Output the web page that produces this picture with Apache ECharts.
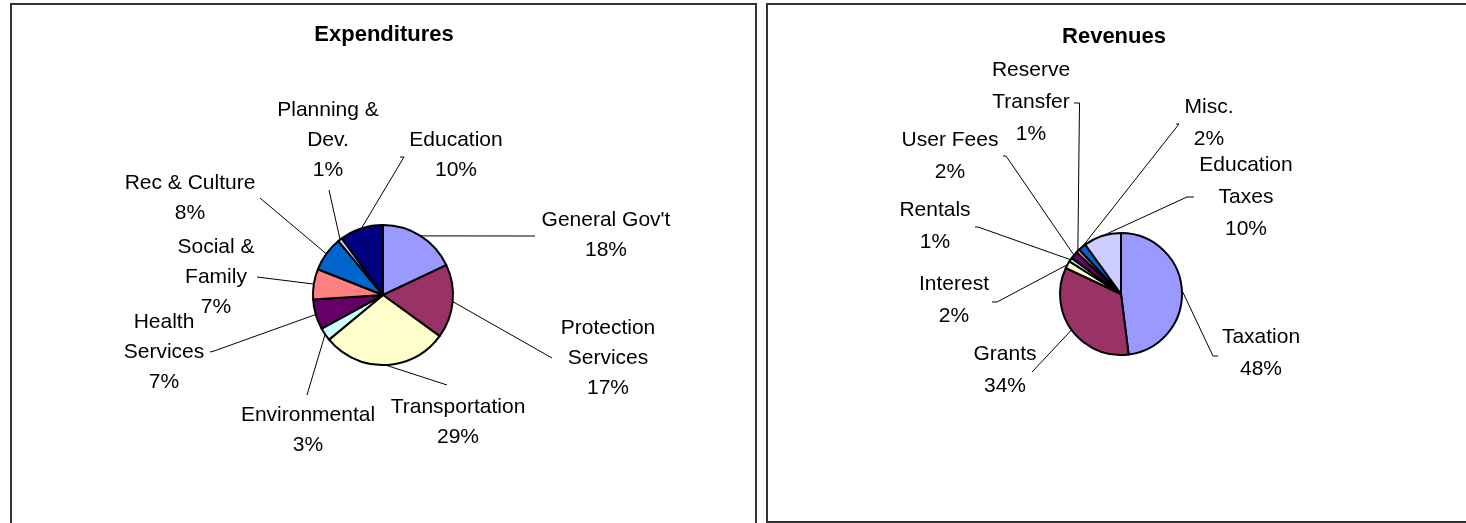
<!DOCTYPE html>
<html><head><meta charset="utf-8">
<script src="https://cdn.jsdelivr.net/npm/echarts@6/dist/echarts.min.js"></script>
<style>html,body{margin:0;padding:0;background:#fff}#c{width:1466px;height:523px}</style>
</head><body><div id="c"></div>
<script>
// ---- data ----
const expCategories = ["General Gov't", "Protection\nServices", "Transportation", "Environmental", "Health\nServices", "Social &\nFamily", "Rec & Culture", "Planning &\nDev.", "Education"];
const expValues = [18, 17, 29, 3, 7, 7, 8, 1, 10];
const revCategories = ["Taxation", "Grants", "Interest", "Rentals", "User Fees", "Reserve\nTransfer", "Misc.", "Education\nTaxes"];
const revValues = [48, 34, 2, 1, 2, 1, 2, 10];

// ---- styles ----
const expColors = ['#9999FF', '#993366', '#FFFFCC', '#CCFFFF', '#660066', '#FF8080', '#0066CC', '#CCCCFF', '#000080'];
const revColors = ['#9999FF', '#993366', '#FFFFCC', '#CCFFFF', '#660066', '#FF8080', '#0066CC', '#CCCCFF'];

// label placement: [textCenterX, textCenterY, bendX, bendY, endX, endY]
const expLabelLayout = [
  [606, 235, 535, 236, 535, 236],
  [608, 358, 552, 358, 552, 358],
  [458, 422, 447, 385, 447, 385],
  [308, 430, 307, 395, 307, 395],
  [164, 352, 214, 351, 210, 352],
  [216, 277, 257, 277, 257, 277],
  [190, 198, 260, 198, 260, 198],
  [328, 140, 329, 190, 329, 190],
  [456, 155, 404, 157, 400, 157]
];
const revLabelLayout = [
  [1261, 353, 1213, 356, 1218, 356],
  [1005, 370, 1032, 372, 1032, 372],
  [954, 300, 997, 302, 992, 302],
  [935, 226, 978, 227, 975, 227],
  [950, 156, 1006, 156, 1003, 156],
  [1031, 102, 1079.5, 103, 1074, 103],
  [1209, 123, 1179, 124, 1176, 124],
  [1246, 197, 1187, 197, 1194, 197]
];

const FONT = "'Liberation Sans', Arial, sans-serif";

function makeData(cats, vals, cols) {
  return cats.map((c, i) => ({ name: c, value: vals[i], itemStyle: { color: cols[i] } }));
}
function layoutFn(table) {
  return function (p) {
    const L = table[p.dataIndex];
    const res = { x: L[0], y: L[1], align: 'center', verticalAlign: 'middle' };
    if (p.labelLinePoints) {
      res.labelLinePoints = [p.labelLinePoints[0], [L[2], L[3]], [L[4], L[5]]];
    }
    return res;
  };
}
function pieSeries(cats, vals, cols, center, radius, table, lh) {
  return {
    type: 'pie',
    center: center,
    radius: radius,
    startAngle: 90,
    clockwise: true,
    percentPrecision: 0,
    avoidLabelOverlap: false,
    silent: true,
    animation: false,
    itemStyle: { borderColor: '#000', borderWidth: 2 },
    label: {
      show: true,
      position: 'outside',
      formatter: '{b}\n{d}%',
      fontFamily: FONT,
      fontSize: 21,
      lineHeight: lh,
      color: '#000'
    },
    labelLine: { show: true, length: 10, length2: 10, smooth: false, lineStyle: { color: '#000', width: 1 } },
    labelLayout: layoutFn(table),
    emphasis: { disabled: true },
    data: makeData(cats, vals, cols)
  };
}

const chart = echarts.init(document.getElementById('c'), null, { renderer: 'canvas' });
chart.setOption({
  backgroundColor: '#fff',
  animation: false,
  title: [
    { text: 'Expenditures', left: 384, top: 24, textAlign: 'center', padding: 0,
      textStyle: { fontFamily: FONT, fontSize: 22, fontWeight: 'bold', color: '#000' } },
    { text: 'Revenues', left: 1114, top: 26, textAlign: 'center', padding: 0,
      textStyle: { fontFamily: FONT, fontSize: 22, fontWeight: 'bold', color: '#000' } }
  ],
  graphic: [
    { type: 'rect', shape: { x: 11, y: 4, width: 745, height: 600 }, style: { fill: 'none', stroke: '#333', lineWidth: 2 }, silent: true },
    { type: 'rect', shape: { x: 767, y: 4, width: 800, height: 518 }, style: { fill: 'none', stroke: '#333', lineWidth: 2 }, silent: true }
  ],
  series: [
    pieSeries(expCategories, expValues, expColors, [383, 295], 70, expLabelLayout, 30),
    pieSeries(revCategories, revValues, revColors, [1121, 294], 61, revLabelLayout, 32)
  ]
});
</script>
</body></html>
